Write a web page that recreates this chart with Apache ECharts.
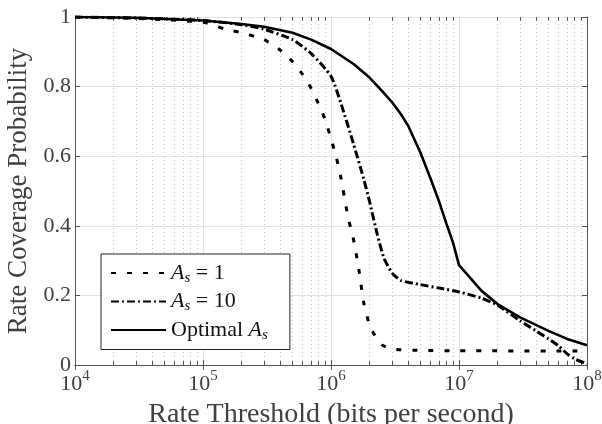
<!DOCTYPE html>
<html>
<head>
<meta charset="utf-8">
<script src="https://cdn.jsdelivr.net/npm/echarts@6/dist/echarts.min.js"></script>
<style>
  html, body { margin: 0; padding: 0; background: #fff; }
  #myChart { width: 602px; height: 424px; }
</style>
</head>
<body>
<div id="myChart"></div>
<script>
// rate thresholds (bits per second) and coverage for each curve
var rateAs1 = [1e4, 3e4, 1e5, 1.5e5, 2e5, 3e5, 4e5, 5e5, 6e5, 7e5, 8e5, 9e5, 1e6, 1.1e6, 1.2e6, 1.35e6, 1.5e6, 1.65e6, 1.8e6, 2e6, 2.2e6, 2.5e6, 3e6, 5e6, 1e7, 1e8];
var covAs1 = [1.0, 0.996, 0.985, 0.965, 0.955, 0.935, 0.905, 0.872, 0.835, 0.795, 0.75, 0.705, 0.65, 0.597, 0.535, 0.43, 0.36, 0.275, 0.18, 0.115, 0.085, 0.058, 0.046, 0.042, 0.041, 0.04];

var rateAs10 = [1e4, 3e4, 1e5, 2e5, 3e5, 5e5, 7e5, 1e6, 1.2e6, 1.5e6, 1.8e6, 2e6, 2.3e6, 2.6e6, 3e6, 3.5e6, 5e6, 7e6, 1e7, 1.5e7, 2e7, 3e7, 4e7, 5e7, 6e7, 7e7, 8e7, 1e8];
var covAs10 = [1.0, 0.997, 0.99, 0.978, 0.965, 0.935, 0.895, 0.83, 0.75, 0.635, 0.535, 0.47, 0.375, 0.306, 0.265, 0.243, 0.231, 0.221, 0.21, 0.192, 0.172, 0.127, 0.098, 0.075, 0.055, 0.032, 0.018, 0.003];

var rateOpt = [1e4, 3e4, 1e5, 2e5, 3e5, 5e5, 7e5, 1e6, 1.5e6, 2e6, 2.5e6, 3e6, 3.5e6, 4e6, 5e6, 6e6, 7e6, 8e6, 9e6, 1e7, 1.2e7, 1.5e7, 2e7, 3e7, 5e7, 7e7, 1e8];
var covOpt = [1.0, 0.998, 0.99, 0.98, 0.972, 0.955, 0.935, 0.908, 0.865, 0.826, 0.788, 0.755, 0.722, 0.688, 0.61, 0.535, 0.469, 0.405, 0.35, 0.287, 0.254, 0.213, 0.175, 0.137, 0.098, 0.075, 0.057];

var yTicks = [0, 0.2, 0.4, 0.6, 0.8, 1];
var decades = [1e4, 1e5, 1e6, 1e7, 1e8];

var serif = "'Liberation Serif', 'Times New Roman', serif";
var textGray = '#404040';

function pairs(xs, ys) {
  return xs.map(function (x, i) { return [x, ys[i]]; });
}

// minor grid at 2..9 x 10^n (log axis minor ticks in echarts are not 2..9)
var minorVals = [];
for (var d = 0; d < decades.length - 1; d++) {
  for (var k = 2; k <= 9; k++) minorVals.push(k * decades[d]);
}
var minorLines = [];
minorVals.forEach(function (v) {
  minorLines.push([{ coord: [v, 0] }, { coord: [v, 1] }]);
});
var minorTicks = [];
minorVals.forEach(function (v) {
  minorTicks.push([{ coord: [v, 0] }, { coord: [v, 0.011] }]);
  minorTicks.push([{ coord: [v, 1] }, { coord: [v, 0.989] }]);
});

var legendNames = {
  As1: '{i|A}{s|s}{t| = 1}',
  As10: '{i|A}{s|s}{t| = 10}',
  Opt: '{t|Optimal }{i|A}{s|s}'
};

myChart = echarts.init(document.getElementById('myChart'));

option = {
  animation: false,
  backgroundColor: '#fff',
  grid: { left: 75, top: 17, right: 15, bottom: 59, containLabel: false, outerBoundsMode: 'none' },
  legend: {
    data: ['As1', 'As10', 'Opt'],
    orient: 'vertical',
    left: 101,
    top: 254,
    padding: [8, 22, 7, 9],
    itemGap: 5,
    itemWidth: 55,
    itemHeight: 10,
    backgroundColor: '#fff',
    borderColor: '#222',
    borderWidth: 1,
    borderRadius: 0,
    itemStyle: { opacity: 0 },
    formatter: function (name) { return legendNames[name]; },
    textStyle: {
      fontFamily: serif,
      color: '#111',
      rich: {
        t: { fontSize: 22, fontFamily: serif, color: '#111' },
        i: { fontSize: 22, fontFamily: serif, fontStyle: 'italic', color: '#111' },
        s: { fontSize: 15, fontFamily: serif, fontStyle: 'italic', color: '#111', padding: [10, 0, 0, 0] }
      }
    }
  },
  xAxis: [{
    type: 'log',
    logBase: 10,
    min: 1e4,
    max: 1e8,
    name: 'Rate Threshold (bits per second)',
    nameLocation: 'middle',
    nameGap: 40,
    nameTextStyle: { fontFamily: serif, fontSize: 28, color: textGray, verticalAlign: 'middle' },
    axisLine: { show: true, lineStyle: { color: '#555', width: 1 } },
    axisTick: { show: true, inside: true, length: 5, lineStyle: { color: '#555' } },
    axisLabel: {
      margin: 4,
      formatter: function (v) {
        return '{b|10}{e|' + Math.round(Math.log10(v)) + '}';
      },
      rich: {
        b: { fontFamily: serif, fontSize: 22, color: textGray },
        e: { fontFamily: serif, fontSize: 15, color: textGray, padding: [0, 0, 16, 0] }
      }
    },
    splitLine: { show: true, lineStyle: { color: '#e2e2e2', width: 1 } },
    minorTick: { show: false },
    minorSplitLine: { show: false }
  }, {
    type: 'log',
    logBase: 10,
    min: 1e4,
    max: 1e8,
    position: 'top',
    axisLine: { show: true, lineStyle: { color: '#555', width: 1 } },
    axisTick: { show: true, inside: true, length: 5, lineStyle: { color: '#555' } },
    axisLabel: { show: false },
    splitLine: { show: false }
  }],
  yAxis: [{
    type: 'value',
    min: 0,
    max: 1,
    interval: 0.2,
    name: 'Rate Coverage Probability',
    nameLocation: 'middle',
    nameGap: 52,
    nameTextStyle: { fontFamily: serif, fontSize: 27, color: textGray, verticalAlign: 'middle' },
    axisLine: { show: true, lineStyle: { color: '#555', width: 1 } },
    axisTick: { show: true, inside: true, length: 5, lineStyle: { color: '#555' } },
    axisLabel: {
      margin: 4,
      fontFamily: serif,
      fontSize: 22,
      color: textGray,
      formatter: function (v) {
        var t = yTicks.find(function (y) { return Math.abs(y - v) < 1e-9; });
        return t === 0 ? '0' : t === 1 ? '1' : t.toFixed(1);
      }
    },
    splitLine: { show: true, lineStyle: { color: '#e2e2e2', width: 1 } }
  }, {
    type: 'value',
    min: 0,
    max: 1,
    interval: 0.2,
    position: 'right',
    axisLine: { show: true, lineStyle: { color: '#555', width: 1 } },
    axisTick: { show: true, inside: true, length: 5, lineStyle: { color: '#555' } },
    axisLabel: { show: false },
    splitLine: { show: false }
  }],
  series: [{
    name: 'minorGrid',
    type: 'line',
    data: [],
    silent: true,
    z: 1,
    markLine: {
      silent: true,
      z: 1,
      symbol: 'none',
      label: { show: false },
      lineStyle: { type: [1, 3], color: '#c4c4c4', width: 1 },
      data: minorLines
    }
  }, {
    name: 'minorTicks',
    type: 'line',
    data: [],
    silent: true,
    z: 1,
    markLine: {
      silent: true,
      z: 1,
      symbol: 'none',
      label: { show: false },
      lineStyle: { type: 'solid', color: '#555', width: 1 },
      data: minorTicks
    }
  }, {
    name: 'As1',
    type: 'line',
    data: pairs(rateAs1, covAs1),
    symbol: 'none',
    smooth: 0.2,
    z: 3,
    lineStyle: { color: '#000', width: 3, type: [5, 11] },
    itemStyle: { color: '#000' }
  }, {
    name: 'As10',
    type: 'line',
    data: pairs(rateAs10, covAs10),
    symbol: 'none',
    smooth: 0.2,
    z: 3,
    lineStyle: { color: '#000', width: 3, type: [8, 3, 2, 3] },
    itemStyle: { color: '#000' }
  }, {
    name: 'Opt',
    type: 'line',
    data: pairs(rateOpt, covOpt),
    symbol: 'none',
    smooth: false,
    z: 3,
    lineStyle: { color: '#000', width: 2.6, type: 'solid' },
    itemStyle: { color: '#000' }
  }]
};

myChart.setOption(option);
</script>
</body>
</html>
